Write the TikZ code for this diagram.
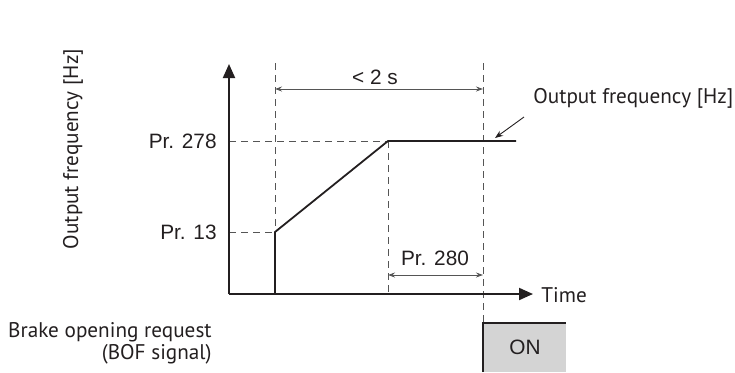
\documentclass[tikz,border=0pt]{standalone}
\usepackage{fontspec}
\setmainfont{Liberation Sans}
\newfontfamily\myr{PT Sans}
\usetikzlibrary{arrows.meta}
\definecolor{ln}{HTML}{231F20}
\definecolor{dsh}{HTML}{555555}
\definecolor{boxg}{HTML}{D4D4D4}
\begin{document}
\begin{tikzpicture}[x=0.5pt,y=-0.5pt,
  axis/.style={line width=1pt,draw=ln,-{Triangle[length=7pt,width=6pt]}},
  sig/.style={line width=0.9pt,draw=ln},
  guide/.style={line width=0.5pt,draw=dsh,dash pattern=on 3.5pt off 2.5pt},
  dim/.style={line width=0.45pt,draw=dsh,{Stealth[length=3.5pt,width=2.5pt]}-{Stealth[length=3.5pt,width=2.5pt]}},
  lab/.style={font=\fontsize{10.4pt}{12pt}\selectfont,inner sep=0pt,text=ln},
  mlab/.style={font=\myr\fontsize{10.6pt}{12pt}\selectfont,inner sep=0pt,text=ln}]
\useasboundingbox (0,0) rectangle (735,372);
% key points
\coordinate (O) at (229,294);
\coordinate (ytop) at (229,64);
\coordinate (xend) at (533,294);
\coordinate (t1b) at (275,294);
\coordinate (t1) at (275,232);
\coordinate (y13) at (229,232);
\coordinate (t2) at (388,141);
\coordinate (y278) at (229,141);
\coordinate (fend) at (516,141);
\coordinate (g1top) at (275,63);
\coordinate (g2bot) at (388,294);
\coordinate (g3top) at (483,63);
\coordinate (g3bot) at (483,323);
\coordinate (d1a) at (275,89);
\coordinate (d1b) at (483,89);
\coordinate (d2a) at (388,275);
\coordinate (d2b) at (483,275);
\coordinate (pa) at (524,117);
\coordinate (pb) at (495,138);
% guides
\draw[guide] (g1top) -- (t1);
\draw[guide] (t2) -- (g2bot);
\draw[guide] (g3top) -- (g3bot);
\draw[guide] (y278) -- (t2);
\draw[guide] (y13) -- (t1);
% axes
\draw[axis] (O) -- (ytop);
\draw[axis] (O) -- (xend);
% signal
\draw[sig,line join=miter] (O) -- (t1b) -- (t1) -- (t2) -- (fend);
% dimension arrows
\draw[dim] (d1a) -- (d1b);
\draw[dim] (d2a) -- (d2b);
\node[lab] (lt2) at (375,77) {< 2 s};
\node[lab] (l280) at (435,258) {Pr. 280};
% pointer
\draw[line width=0.45pt,draw=ln,-{Stealth[length=4pt,width=3pt]}] (pa) -- (pb);
\node[mlab,anchor=west] (lof) at (533,98) {Output frequency [Hz]};
% y labels
\node[lab,anchor=east] (l278) at (217,141) {Pr. 278};
\node[lab,anchor=east] (l13) at (217,232) {Pr. 13};
\node[mlab,rotate=90] (lyax) at (73,149) {Output frequency [Hz]};
\node[mlab,anchor=west] (ltime) at (541,295) {Time};
% brake
\node[mlab,anchor=base east,align=right,font=\myr\fontsize{10.6pt}{9pt}\selectfont] (lb) at (212,359) {Brake opening request\\(BOF signal)};
\fill[boxg] (483,323) rectangle (566,372);
\draw[line width=0.75pt,draw=ln] (483,372) -- (483,323) -- (566,323);
\node[lab] (lon) at (525,347) {ON};
\end{tikzpicture}
\end{document}
